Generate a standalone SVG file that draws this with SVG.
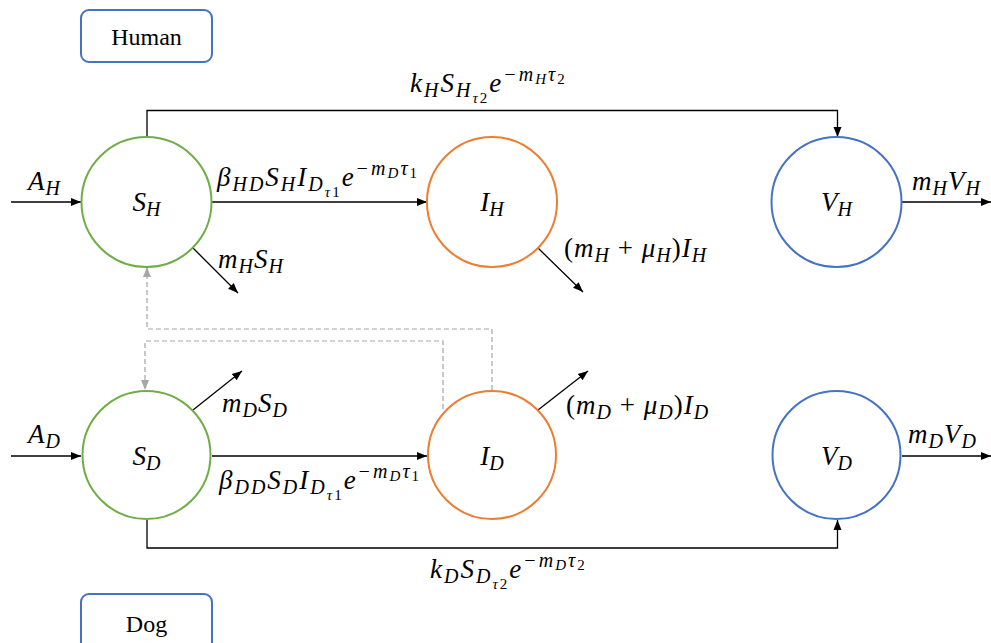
<svg xmlns="http://www.w3.org/2000/svg" width="991" height="643" viewBox="0 0 991 643">
<defs>
<marker id="ar" viewBox="0 0 10 10" refX="10" refY="5" markerWidth="10" markerHeight="10" markerUnits="userSpaceOnUse" orient="auto"><path d="M0,1 L10,5 L0,9 z" fill="#000"/></marker>
<marker id="ag" viewBox="0 0 10 10" refX="10" refY="5" markerWidth="10" markerHeight="10" markerUnits="userSpaceOnUse" orient="auto"><path d="M0,1 L10,5 L0,9 z" fill="#A6A6A6"/></marker>
</defs>
<rect width="991" height="643" fill="#fff"/>
<g id="connectors" fill="none" stroke="#000" stroke-width="1.3">
<path d="M147,137 V110.5 H837.5 V137" marker-end="url(#ar)"/>
<path d="M147,520 V548 H837.5 V520" marker-end="url(#ar)"/>
<path d="M11,202 H81" marker-end="url(#ar)"/>
<path d="M11,456 H81" marker-end="url(#ar)"/>
<path d="M212,202 H427" marker-end="url(#ar)"/>
<path d="M212,456 H427" marker-end="url(#ar)"/>
<path d="M902,202 H991" marker-end="url(#ar)"/>
<path d="M902,456 H991" marker-end="url(#ar)"/>
<path d="M193,248 L238,293" marker-end="url(#ar)"/>
<path d="M538,248 L583,292" marker-end="url(#ar)"/>
<path d="M193,410 L242,371" marker-end="url(#ar)"/>
<path d="M538,410 L588,371" marker-end="url(#ar)"/>
<g stroke="#A6A6A6" stroke-width="1.2" stroke-dasharray="5 3">
<path d="M492,390 V329 H147 V267" marker-end="url(#ag)"/>
<path d="M443,409 V341 H145 V390" marker-end="url(#ag)"/>
</g>
</g>
<g font-family="Liberation Serif, Times New Roman, serif" fill="#000">
<g id="human-box"><rect x="81" y="10" width="131" height="52" rx="8" fill="#fff" stroke="#4472C4" stroke-width="2"/><text font-family="Liberation Serif" font-size="24" x="146.5" y="45" text-anchor="middle">Human</text></g>
<g id="dog-box"><rect x="81" y="594" width="131" height="56" rx="8" fill="#fff" stroke="#4472C4" stroke-width="2"/><text font-family="Liberation Serif" font-size="24" x="146.5" y="632" text-anchor="middle">Dog</text></g>
<g font-style="italic" font-size="27">
<g id="SH"><circle cx="146.5" cy="202" r="65" fill="#fff" stroke="#70AD47" stroke-width="2"/><text font-family="Liberation Serif" x="146.5" y="211" text-anchor="middle">S<tspan font-size="20" dy="5">H</tspan></text></g>
<g id="IH"><circle cx="492" cy="202" r="65" fill="#fff" stroke="#ED7D31" stroke-width="2"/><text font-family="Liberation Serif" x="492" y="211" text-anchor="middle">I<tspan font-size="20" dy="5">H</tspan></text></g>
<g id="VH"><circle cx="836.5" cy="202" r="65" fill="#fff" stroke="#4472C4" stroke-width="2"/><text font-family="Liberation Serif" x="836.5" y="211" text-anchor="middle">V<tspan font-size="20" dy="5">H</tspan></text></g>
<g id="SD"><circle cx="146.5" cy="455" r="64" fill="#fff" stroke="#70AD47" stroke-width="2"/><text font-family="Liberation Serif" x="146.5" y="465" text-anchor="middle">S<tspan font-size="20" dy="5">D</tspan></text></g>
<g id="ID"><circle cx="492" cy="455" r="64" fill="#fff" stroke="#ED7D31" stroke-width="2"/><text font-family="Liberation Serif" x="492" y="465" text-anchor="middle">I<tspan font-size="20" dy="5">D</tspan></text></g>
<g id="VD"><circle cx="836.5" cy="455" r="64" fill="#fff" stroke="#4472C4" stroke-width="2"/><text font-family="Liberation Serif" x="836.5" y="465" text-anchor="middle">V<tspan font-size="20" dy="5">D</tspan></text></g>
<g id="labels" letter-spacing="1">
<text font-family="Liberation Serif" x="28" y="190">A<tspan font-size="20" dy="5">H</tspan></text>
<text font-family="Liberation Serif" x="28" y="443">A<tspan font-size="20" dy="5">D</tspan></text>
<text font-family="Liberation Serif" x="912" y="190">m<tspan font-size="20" dy="5">H</tspan><tspan dy="-5">V</tspan><tspan font-size="20" dy="5">H</tspan></text>
<text font-family="Liberation Serif" x="908" y="443">m<tspan font-size="20" dy="5">D</tspan><tspan dy="-5">V</tspan><tspan font-size="20" dy="5">D</tspan></text>
<text font-family="Liberation Serif" x="218" y="268">m<tspan font-size="20" dy="5">H</tspan><tspan dy="-5">S</tspan><tspan font-size="20" dy="5">H</tspan></text>
<text font-family="Liberation Serif" x="222" y="412">m<tspan font-size="20" dy="5">D</tspan><tspan dy="-5">S</tspan><tspan font-size="20" dy="5">D</tspan></text>
<text font-family="Liberation Serif" x="564" y="257"><tspan font-style="normal">(</tspan>m<tspan font-size="20" dy="5">H</tspan><tspan font-style="normal" dy="-5"> + </tspan>μ<tspan font-size="20" dy="5">H</tspan><tspan font-style="normal" dy="-5">)</tspan>I<tspan font-size="20" dy="5">H</tspan></text>
<text font-family="Liberation Serif" x="566" y="414"><tspan font-style="normal">(</tspan>m<tspan font-size="20" dy="5">D</tspan><tspan font-style="normal" dy="-5"> + </tspan>μ<tspan font-size="20" dy="5">D</tspan><tspan font-style="normal" dy="-5">)</tspan>I<tspan font-size="20" dy="5">D</tspan></text>
<g letter-spacing="2">
<text font-family="Liberation Serif" x="217" y="186">β<tspan font-size="20" dy="5">HD</tspan><tspan dy="-5">S</tspan><tspan font-size="20" dy="5">H</tspan><tspan dy="-5">I</tspan><tspan font-size="20" dy="5">D</tspan><tspan font-size="15" dy="6">τ</tspan><tspan font-size="15" font-style="normal">1</tspan><tspan dy="-11">e</tspan><tspan font-size="20" dy="-11">−m</tspan><tspan font-size="15" dy="3">D</tspan><tspan font-size="20" dy="-3">τ</tspan><tspan font-size="15" font-style="normal" dy="3">1</tspan></text>
<text font-family="Liberation Serif" x="219" y="489">β<tspan font-size="20" dy="5">DD</tspan><tspan dy="-5">S</tspan><tspan font-size="20" dy="5">D</tspan><tspan dy="-5">I</tspan><tspan font-size="20" dy="5">D</tspan><tspan font-size="15" dy="6">τ</tspan><tspan font-size="15" font-style="normal">1</tspan><tspan dy="-11">e</tspan><tspan font-size="20" dy="-11">−m</tspan><tspan font-size="15" dy="3">D</tspan><tspan font-size="20" dy="-3">τ</tspan><tspan font-size="15" font-style="normal" dy="3">1</tspan></text>
<text font-family="Liberation Serif" x="410" y="92">k<tspan font-size="20" dy="5">H</tspan><tspan dy="-5">S</tspan><tspan font-size="20" dy="5">H</tspan><tspan font-size="15" dy="6">τ</tspan><tspan font-size="15" font-style="normal">2</tspan><tspan dy="-11">e</tspan><tspan font-size="20" dy="-11">−m</tspan><tspan font-size="15" dy="3">H</tspan><tspan font-size="20" dy="-3">τ</tspan><tspan font-size="15" font-style="normal" dy="3">2</tspan></text>
<text font-family="Liberation Serif" x="430" y="578">k<tspan font-size="20" dy="5">D</tspan><tspan dy="-5">S</tspan><tspan font-size="20" dy="5">D</tspan><tspan font-size="15" dy="6">τ</tspan><tspan font-size="15" font-style="normal">2</tspan><tspan dy="-11">e</tspan><tspan font-size="20" dy="-11">−m</tspan><tspan font-size="15" dy="3">D</tspan><tspan font-size="20" dy="-3">τ</tspan><tspan font-size="15" font-style="normal" dy="3">2</tspan></text>
</g>
</g>
</g>
</g>
</svg>
